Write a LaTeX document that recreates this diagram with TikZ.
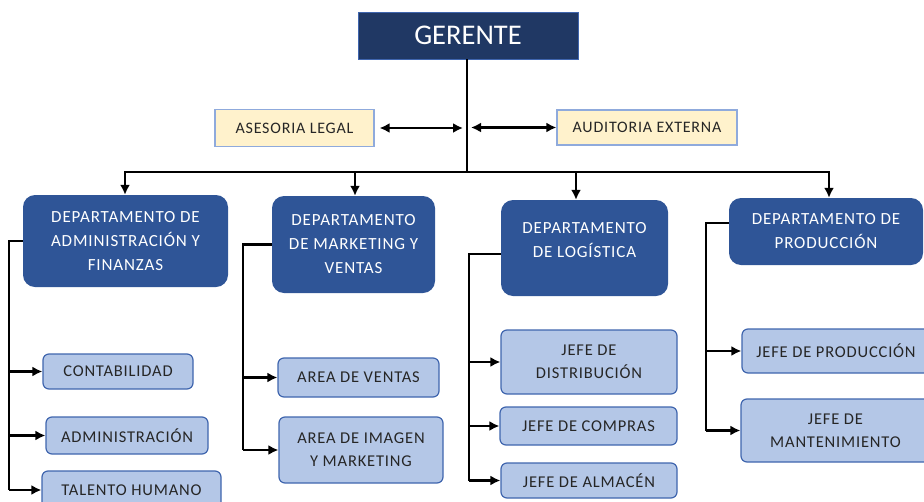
\documentclass[tikz,border=0pt]{standalone}
\usepackage{fontspec}
\setmainfont{Carlito}[LetterSpace=5]
\usetikzlibrary{arrows.meta}

\definecolor{navy}{HTML}{203864}
\definecolor{deptblue}{HTML}{2F5597}
\definecolor{subblue}{HTML}{B4C7E7}
\definecolor{subline}{HTML}{3F65AE}
\definecolor{cream}{HTML}{FFF2CC}
\definecolor{creamline}{HTML}{8FAADC}
\definecolor{ink}{HTML}{262626}

\begin{document}
\begin{tikzpicture}[x=1pt, y=-1pt,
    boss/.style={draw=subline, line width=0.6pt, fill=navy, text=white,
        font=\addfontfeature{LetterSpace=0}\fontsize{28.5}{30}\selectfont},
    advisor/.style={draw=creamline, line width=1.2pt, fill=cream, text=ink,
        font=\fontsize{16}{18}\selectfont},
    dept/.style={fill=deptblue, rounded corners=12pt, text=white, align=center,
        font=\fontsize{17}{24}\selectfont},
    unit/.style={draw=subline, line width=1.2pt, fill=subblue, rounded corners=6pt,
        text=ink, align=center, font=\fontsize{16.5}{23}\selectfont},
    wire/.style={line width=2.6pt},
    arr/.style={wire, -{Latex[length=10pt,width=10pt]}},
    dbl/.style={wire, {Latex[length=10pt,width=10pt]}-{Latex[length=10pt,width=10pt]}}]

    % the frame
    \useasboundingbox (0,0) rectangle (924,501);
    \clip (0,0) rectangle (924,501);

    % top
    \node[boss, minimum width=220pt, minimum height=47pt] (ger) at (468,35.5) {GERENTE};
    \node[advisor, minimum width=159pt, minimum height=37pt] (leg) at (294.5,128) {ASESORIA LEGAL};
    \node[advisor, minimum width=180pt, minimum height=35pt] (aud) at (647,127.5) {AUDITORIA EXTERNA};

    % departments
    \node[dept, minimum width=205pt, minimum height=92pt] (d1) at (125.5,241)
        {DEPARTAMENTO DE\\ADMINISTRACIÓN Y\\FINANZAS};
    \node[dept, minimum width=163pt, minimum height=97pt] (d2) at (353.5,244.5)
        {DEPARTAMENTO\\DE MARKETING Y\\VENTAS};
    \node[dept, minimum width=167pt, minimum height=96pt] (d3) at (584.5,248) {};
    \node[text=white, align=center, font=\fontsize{17}{24}\selectfont] (d3t) at (584.5,240)
        {DEPARTAMENTO\\DE LOGÍSTICA};
    \node[dept, minimum width=194pt, minimum height=67pt] (d4) at (826,231.5)
        {DEPARTAMENTO DE\\PRODUCCIÓN};

    % units
    \node[unit, minimum width=150pt, minimum height=35pt] (conta) at (118,371.5) {CONTABILIDAD};
    \node[unit, minimum width=162pt, minimum height=37pt] (admin) at (127,435.5) {ADMINISTRACIÓN};
    \node[unit, minimum width=179pt, minimum height=38pt] (talento) at (131.5,490) {TALENTO HUMANO};
    \node[unit, minimum width=161pt, minimum height=39pt] (ventas) at (358.5,377.5) {AREA DE VENTAS};
    \node[unit, minimum width=164pt, minimum height=66pt] (imagen) at (361,450) {AREA DE IMAGEN\\Y MARKETING};
    \node[unit, minimum width=176pt, minimum height=64pt] (distrib) at (589,362) {JEFE DE\\DISTRIBUCIÓN};
    \node[unit, minimum width=177pt, minimum height=38pt] (compras) at (588.5,426) {JEFE DE COMPRAS};
    \node[unit, minimum width=176pt, minimum height=35pt] (almacen) at (589,480.5) {JEFE DE ALMACÉN};
    \node[unit, minimum width=188pt, minimum height=44pt] (jprod) at (836,351) {JEFE DE PRODUCCIÓN};
    \node[unit, minimum width=189pt, minimum height=63pt] (jmant) at (835.5,430.5) {JEFE DE\\MANTENIMIENTO};

    % gerente to the departments
    \coordinate (bus) at (467,172);
    \draw[wire] (ger.south -| bus) -- (bus);
    \draw[wire] ([xshift=-1.5pt]d1.north |- bus) -- ([xshift=4pt]d4.north |- bus);
    \draw[arr] ([xshift=-0.5pt]d1.north |- bus) -- ([xshift=-0.5pt]d1.north);
    \draw[arr] ([xshift=1.5pt]d2.north |- bus) -- ([xshift=1.5pt]d2.north);
    \draw[arr] ([xshift=-8.5pt]d3.north |- bus) -- ([xshift=-8.5pt]d3.north);
    \draw[arr] ([xshift=3pt]d4.north |- bus) -- ([xshift=3pt]d4.north);

    % advisors
    \draw[dbl, shorten <=5pt] (leg.east) -- ([xshift=-4pt]leg.east -| bus);
    \draw[dbl] ([xshift=4pt]aud.west -| bus) -- (aud.west);

    % branches
    \coordinate (b1) at (9,241);
    \draw[wire] (d1.west) -- (b1) -- (b1 |- talento.west);
    \foreach \u in {conta, admin, talento}
        \draw[arr] (b1 |- \u.west) -- (\u.west);

    \coordinate (b2) at (243,244.5);
    \draw[wire] (d2.west) -- (b2) -- (b2 |- imagen.west);
    \foreach \u in {ventas, imagen}
        \draw[arr] (b2 |- \u.west) -- (\u.west);

    \coordinate (b3) at (469,254);
    \draw[wire] (d3.west |- b3) -- (b3) -- (b3 |- almacen.west);
    \foreach \u in {distrib, compras, almacen}
        \draw[arr] (b3 |- \u.west) -- (\u.west);

    \coordinate (b4) at (706,223);
    \draw[wire] (d4.west |- b4) -- (b4) -- (b4 |- jmant.west);
    \foreach \u in {jprod, jmant}
        \draw[arr] (b4 |- \u.west) -- (\u.west);

\end{tikzpicture}
\end{document}
